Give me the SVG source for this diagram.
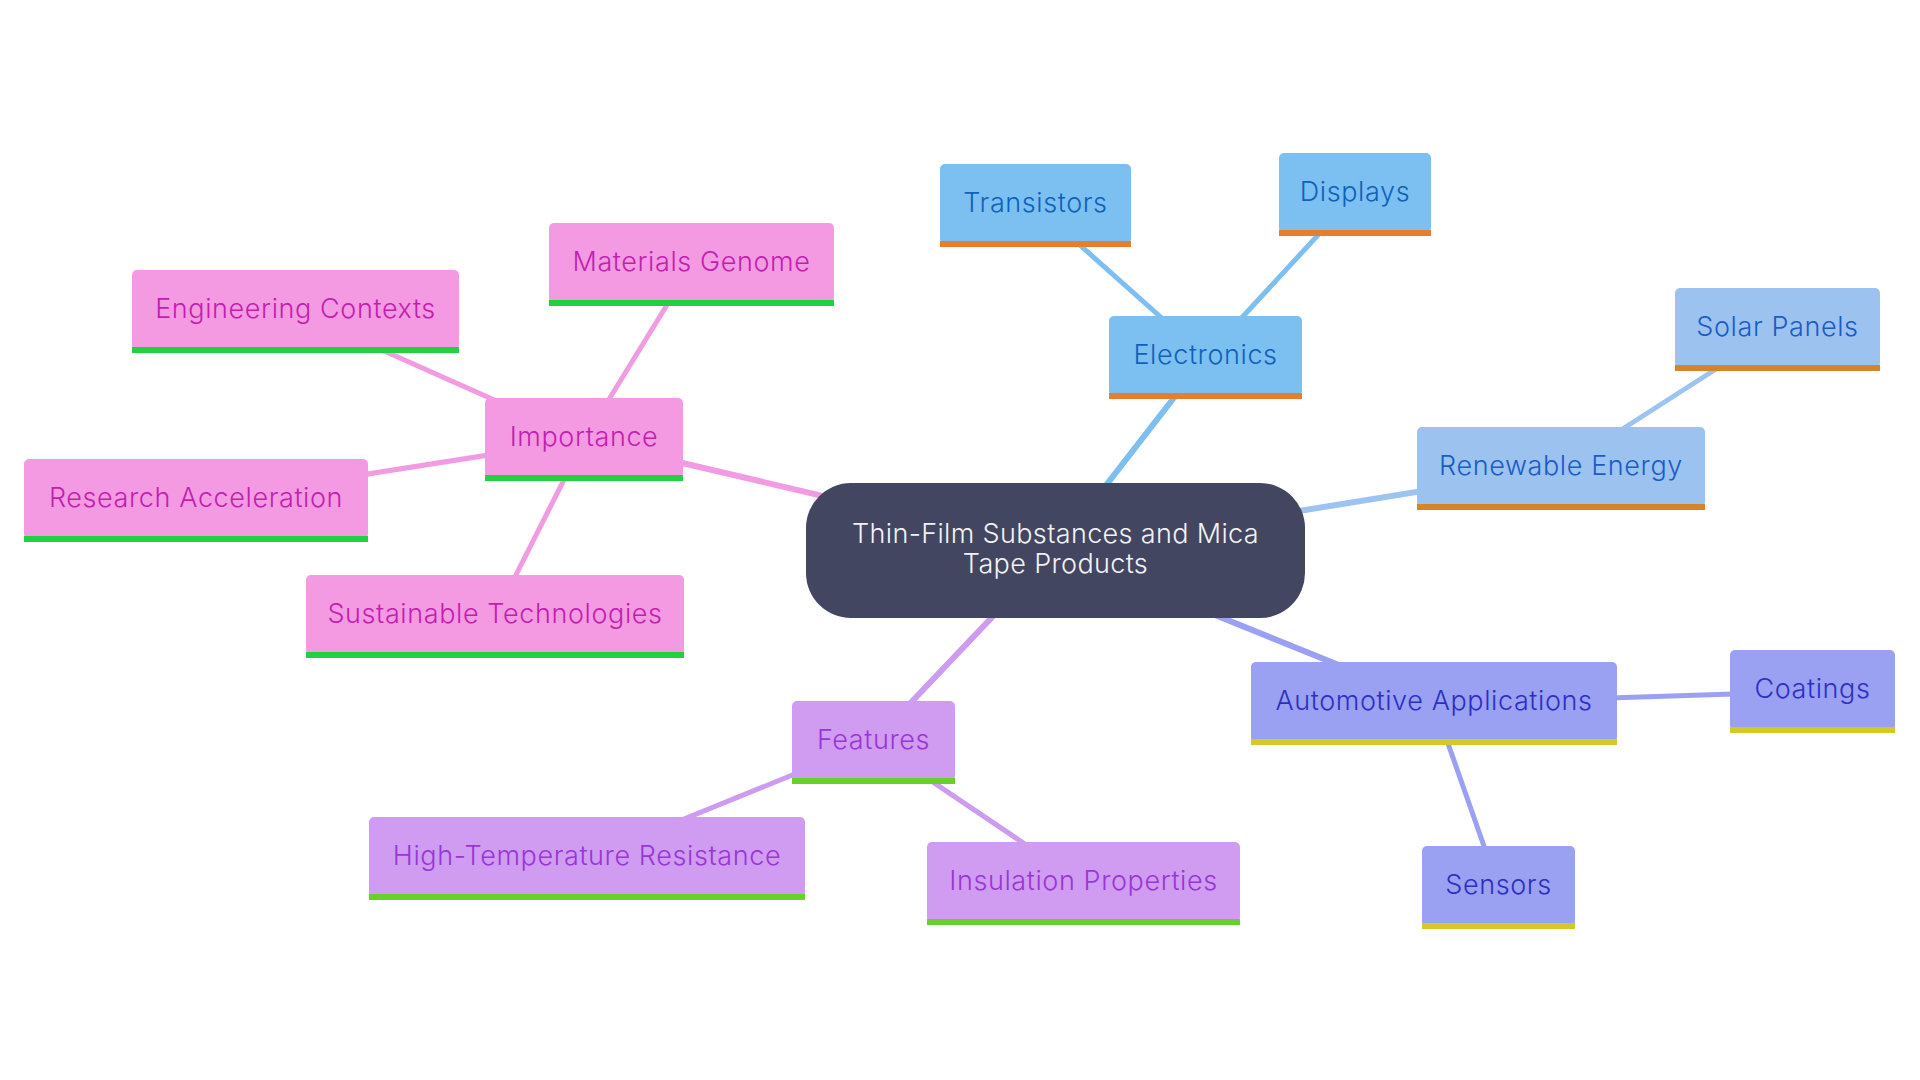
<svg xmlns="http://www.w3.org/2000/svg" width="1920" height="1080" viewBox="0 0 1920 1080">
<style>
text{font-family:Inter,"Noto Sans","Liberation Sans",sans-serif;text-anchor:middle;font-weight:300}
.lbl{font-size:27px;letter-spacing:0.6px}
.root{font-size:27px;letter-spacing:0.35px;fill:#f2f2f5}
.e1{stroke-width:6;fill:none;stroke-linecap:round}
.e2{stroke-width:5;fill:none;stroke-linecap:round}
.pk .b{fill:#f39ae3}.pk text{fill:#c21fae}.pk .bar{fill:#22d13f}
.el .b{fill:#7cc0f2}.el text{fill:#0f62b8}.el .bar{fill:#e57e2f}
.rn .b{fill:#9cc3f0}.rn text{fill:#1a5cc6}.rn .bar{fill:#d6842a}
.au .b{fill:#9aa0f2}.au text{fill:#2b30c2}.au .bar{fill:#d6c925}
.ft .b{fill:#cf9cf2}.ft text{fill:#9a35d6}.ft .bar{fill:#66d12a}
</style>
<rect width="1920" height="1080" fill="#ffffff"/>
<g id="connectors">
<line class="e1" x1="1055.5" y1="550.5" x2="584" y2="440" stroke="#f19be2"/>
<line class="e2" x1="584" y1="440" x2="295.5" y2="311.5" stroke="#f19be2"/>
<line class="e2" x1="584" y1="440" x2="691.5" y2="265" stroke="#f19be2"/>
<line class="e2" x1="584" y1="440" x2="196" y2="501" stroke="#f19be2"/>
<line class="e2" x1="584" y1="440" x2="495" y2="616.5" stroke="#f19be2"/>
<line class="e1" x1="1055.5" y1="550.5" x2="1205.5" y2="357" stroke="#7dbff0"/>
<line class="e2" x1="1205.5" y1="357" x2="1035.5" y2="205.5" stroke="#7dbff0"/>
<line class="e2" x1="1205.5" y1="357" x2="1355" y2="195" stroke="#7dbff0"/>
<line class="e1" x1="1055.5" y1="550.5" x2="1561" y2="468.5" stroke="#9dc3f0"/>
<line class="e2" x1="1561" y1="468.5" x2="1777.5" y2="329.5" stroke="#9dc3f0"/>
<line class="e1" x1="1055.5" y1="550.5" x2="1434" y2="703.5" stroke="#9ba0f2"/>
<line class="e2" x1="1434" y1="703.5" x2="1812.5" y2="691.5" stroke="#9ba0f2"/>
<line class="e2" x1="1434" y1="703.5" x2="1498.5" y2="887.5" stroke="#9ba0f2"/>
<line class="e1" x1="1055.5" y1="550.5" x2="873.5" y2="742" stroke="#cd9cf0"/>
<line class="e2" x1="873.5" y1="742" x2="587" y2="858.5" stroke="#cd9cf0"/>
<line class="e2" x1="873.5" y1="742" x2="1083.5" y2="883.5" stroke="#cd9cf0"/>
</g>
<g id="root">
<rect x="806" y="483" width="499" height="135" rx="45" fill="#424660"/>
<text class="root" x="1055.5" y="543">Thin-Film Substances and Mica</text>
<text class="root" x="1055.5" y="573">Tape Products</text>
</g>
<g id="importance" class="pk">
<rect class="b" x="485" y="398" width="198" height="80" rx="5"/><rect class="bar" x="485" y="475" width="198" height="6"/>
<text class="lbl" x="584" y="446">Importance</text>
</g>
<g id="engineering" class="pk">
<rect class="b" x="132" y="270" width="327" height="80" rx="5"/><rect class="bar" x="132" y="347" width="327" height="6"/>
<text class="lbl" x="295.5" y="318">Engineering Contexts</text>
</g>
<g id="materials" class="pk">
<rect class="b" x="549" y="223" width="285" height="80" rx="5"/><rect class="bar" x="549" y="300" width="285" height="6"/>
<text class="lbl" x="691.5" y="271">Materials Genome</text>
</g>
<g id="research" class="pk">
<rect class="b" x="24" y="459" width="344" height="80" rx="5"/><rect class="bar" x="24" y="536" width="344" height="6"/>
<text class="lbl" x="196" y="507">Research Acceleration</text>
</g>
<g id="sustainable" class="pk">
<rect class="b" x="306" y="575" width="378" height="80" rx="5"/><rect class="bar" x="306" y="652" width="378" height="6"/>
<text class="lbl" x="495" y="623">Sustainable Technologies</text>
</g>
<g id="electronics" class="el">
<rect class="b" x="1109" y="316" width="193" height="80" rx="5"/><rect class="bar" x="1109" y="393" width="193" height="6"/>
<text class="lbl" x="1205.5" y="364">Electronics</text>
</g>
<g id="transistors" class="el">
<rect class="b" x="940" y="164" width="191" height="80" rx="5"/><rect class="bar" x="940" y="241" width="191" height="6"/>
<text class="lbl" x="1035.5" y="212">Transistors</text>
</g>
<g id="displays" class="el">
<rect class="b" x="1279" y="153" width="152" height="80" rx="5"/><rect class="bar" x="1279" y="230" width="152" height="6"/>
<text class="lbl" x="1355" y="201">Displays</text>
</g>
<g id="renewable" class="rn">
<rect class="b" x="1417" y="427" width="288" height="80" rx="5"/><rect class="bar" x="1417" y="504" width="288" height="6"/>
<text class="lbl" x="1561" y="475">Renewable Energy</text>
</g>
<g id="solar" class="rn">
<rect class="b" x="1675" y="288" width="205" height="80" rx="5"/><rect class="bar" x="1675" y="365" width="205" height="6"/>
<text class="lbl" x="1777.5" y="336">Solar Panels</text>
</g>
<g id="automotive" class="au">
<rect class="b" x="1251" y="662" width="366" height="80" rx="5"/><rect class="bar" x="1251" y="739" width="366" height="6"/>
<text class="lbl" x="1434" y="710">Automotive Applications</text>
</g>
<g id="coatings" class="au">
<rect class="b" x="1730" y="650" width="165" height="80" rx="5"/><rect class="bar" x="1730" y="727" width="165" height="6"/>
<text class="lbl" x="1812.5" y="698">Coatings</text>
</g>
<g id="sensors" class="au">
<rect class="b" x="1422" y="846" width="153" height="80" rx="5"/><rect class="bar" x="1422" y="923" width="153" height="6"/>
<text class="lbl" x="1498.5" y="894">Sensors</text>
</g>
<g id="features" class="ft">
<rect class="b" x="792" y="701" width="163" height="80" rx="5"/><rect class="bar" x="792" y="778" width="163" height="6"/>
<text class="lbl" x="873.5" y="749">Features</text>
</g>
<g id="hightemp" class="ft">
<rect class="b" x="369" y="817" width="436" height="80" rx="5"/><rect class="bar" x="369" y="894" width="436" height="6"/>
<text class="lbl" x="587" y="865">High-Temperature Resistance</text>
</g>
<g id="insulation" class="ft">
<rect class="b" x="927" y="842" width="313" height="80" rx="5"/><rect class="bar" x="927" y="919" width="313" height="6"/>
<text class="lbl" x="1083.5" y="890">Insulation Properties</text>
</g>
</svg>
